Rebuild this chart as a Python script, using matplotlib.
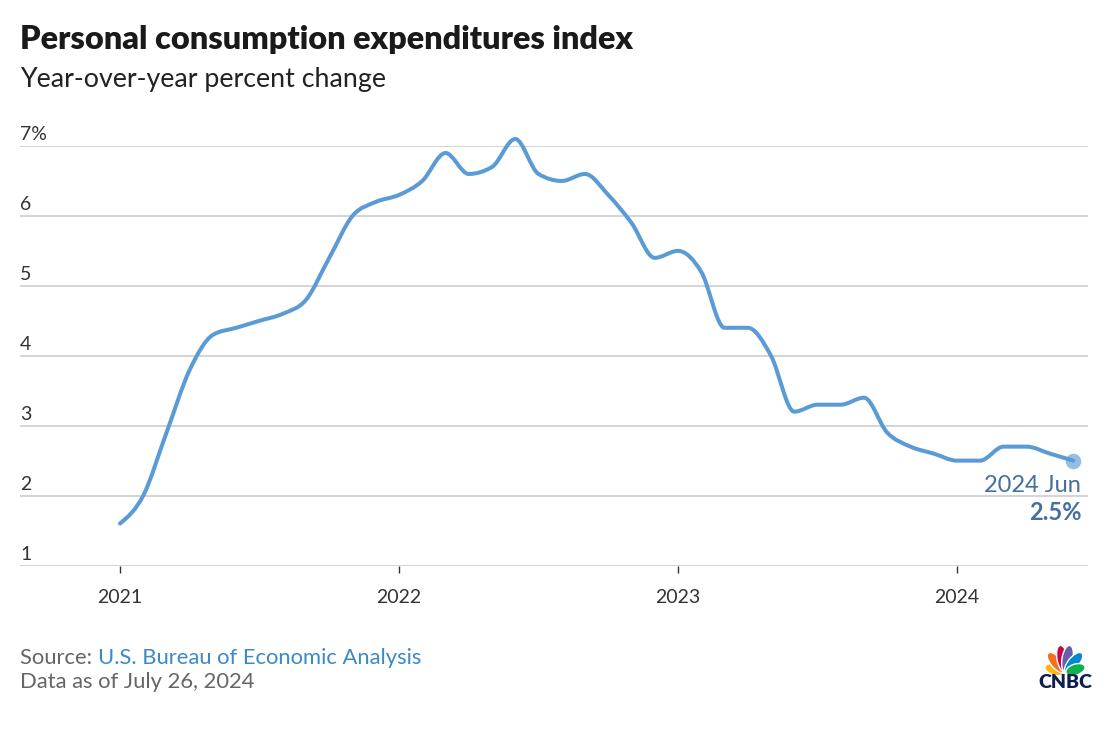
import numpy as np
import pandas as pd
import matplotlib
matplotlib.use('Agg')
import matplotlib.pyplot as plt
import matplotlib.transforms as mtransforms
from matplotlib.path import Path
from matplotlib.patches import PathPatch, Ellipse

# monthly PCE index, year-over-year % change
dates = pd.date_range('2021-01-01', '2024-06-01', freq='MS')
pce = [1.6, 2.0, 2.9, 3.8, 4.3, 4.4, 4.5, 4.6, 4.8, 5.4, 6.0, 6.2,
       6.3, 6.5, 6.9, 6.6, 6.7, 7.1, 6.6, 6.5, 6.6, 6.3, 5.9, 5.4,
       5.5, 5.2, 4.4, 4.4, 4.0, 3.2, 3.3, 3.3, 3.4, 2.9, 2.7, 2.6,
       2.5, 2.5, 2.7, 2.7, 2.6, 2.5]
year_ticks = [2021, 2022, 2023, 2024]
y_ticks = [1, 2, 3, 4, 5, 6, 7]

FONT = 'Lato'
W, H = 1112, 732
LINE = '#5b9bd5'


def monotone_path(x, y):
    # same kind of smoothing as d3.curveMonotoneX
    x = np.asarray(x, float)
    y = np.asarray(y, float)
    h = np.diff(x)
    s = np.diff(y) / h
    t = np.zeros_like(y)
    for i in range(1, len(y) - 1):
        p = (s[i-1]*h[i] + s[i]*h[i-1]) / (h[i-1] + h[i])
        t[i] = (np.sign(s[i-1]) + np.sign(s[i])) * min(abs(s[i-1]), abs(s[i]), 0.5*abs(p))
    t[0] = (3*s[0] - t[1]) / 2
    t[-1] = (3*s[-1] - t[-2]) / 2
    verts = [(x[0], y[0])]
    codes = [Path.MOVETO]
    for i in range(len(x) - 1):
        dx = h[i] / 3
        verts += [(x[i] + dx, y[i] + dx*t[i]), (x[i+1] - dx, y[i+1] - dx*t[i+1]), (x[i+1], y[i+1])]
        codes += [Path.CURVE4] * 3
    return Path(verts, codes)


fig = plt.figure(figsize=(W/100, H/100), dpi=100)
fig.patch.set_facecolor('white')

# months since Jan 2021
x = (dates.year - 2021) * 12 + (dates.month - 1)
x = np.asarray(x, float)

px_month = 23.25
left_px, right_px = 20, 1088
x0 = 0 - (120 - left_px) / px_month
x1 = 0 + (right_px - 120) / px_month
ax = fig.add_axes([left_px/W, 1 - 565.5/H, (right_px - left_px)/W, (565.5 - 146)/H])
ax.set_xlim(x0, x1)
ax.set_ylim(1, 7)
for sp in ax.spines.values():
    sp.set_visible(False)

ax.set_yticks(y_ticks)
ax.yaxis.set_ticklabels([])
ax.tick_params(axis='y', length=0)
ax.grid(axis='y', color='#d4d4d4', lw=1.4)
ax.set_axisbelow(True)

# y labels sit on top of the gridlines
trans = mtransforms.offset_copy(ax.get_yaxis_transform(), fig=fig, x=0, y=6, units='dots')
for v in y_ticks:
    lab = f'{v}%' if v == y_ticks[-1] else f'{v}'
    ax.text(0, v, lab, transform=trans, ha='left', va='baseline',
            fontsize=14, family=FONT, color='#333333')

ax.set_xticks([(yr - 2021) * 12 for yr in year_ticks])
ax.set_xticklabels([str(yr) for yr in year_ticks], fontsize=14, family=FONT, color='#333333')
ax.tick_params(axis='x', length=5, width=1, color='#333333', pad=12)

path = monotone_path(x, pce)
ax.add_patch(PathPatch(path, fill=False, edgecolor=LINE, lw=2.9,
                       capstyle='round', joinstyle='round', clip_on=False, zorder=3))
ax.scatter([x[-1]], [pce[-1]], s=125, color=LINE, alpha=0.65, lw=0, zorder=4, clip_on=False)

last = dates[-1]
ax.annotate(f'{last.year} {last.strftime("%b")}', (x[-1], pce[-1]), xytext=(8, -31),
            textcoords='offset pixels', ha='right', va='baseline',
            fontsize=17, family=FONT, color='#44709f')
ax.annotate(f'{pce[-1]}%', (x[-1], pce[-1]), xytext=(8, -59),
            textcoords='offset pixels', ha='right', va='baseline',
            fontsize=17, family=FONT, fontweight='bold', color='#44709f')

# titles
fig.text(20/W, 1 - 48.5/H, 'Personal consumption expenditures index', ha='left', va='baseline',
         fontsize=23.3, family=FONT, fontweight='heavy', color='#1a1a1a')
fig.text(20/W, 1 - 87.5/H, 'Year-over-year percent change', ha='left', va='baseline',
         fontsize=19.3, family=FONT, color='#222222')

# source
src = fig.text(20/W, 1 - 663.5/H, 'Source: ', ha='left', va='baseline',
               fontsize=15.8, family=FONT, color='#666666')
r = fig.canvas.get_renderer()
bb = src.get_window_extent(renderer=r)
fig.text(bb.x1/W, 1 - 663.5/H, 'U.S. Bureau of Economic Analysis', ha='left', va='baseline',
         fontsize=15.8, family=FONT, color='#3c89c9')
fig.text(20/W, 1 - 688.5/H, 'Data as of July 26, 2024', ha='left', va='baseline',
         fontsize=15.8, family=FONT, color='#666666')

# CNBC peacock
lg = fig.add_axes([1036/W, 1 - 676/H, 58/W, 32/H])
lg.set_xlim(0, 58)
lg.set_ylim(0, 32)
lg.axis('off')
feathers = [(162, '#fcb711', 20), (130, '#f37021', 25), (100, '#cc004c', 27),
            (80, '#6460aa', 27), (50, '#0089d0', 25), (18, '#0db14b', 20)]
cx, cy = 29, 3
for ang, col, ln in feathers:
    a = np.deg2rad(ang)
    d = ln / 2 + 1
    lg.add_patch(Ellipse((cx + d*np.cos(a), cy + d*np.sin(a)), ln, 11, angle=ang,
                         facecolor=col, edgecolor='white', lw=1.0))
fig.text(1065/W, 1 - 688.5/H, 'CNBC', ha='center', va='baseline',
         fontsize=14, family=FONT, fontweight='heavy', color='#0c1d4f')

fig.savefig('out.png', dpi=100)
